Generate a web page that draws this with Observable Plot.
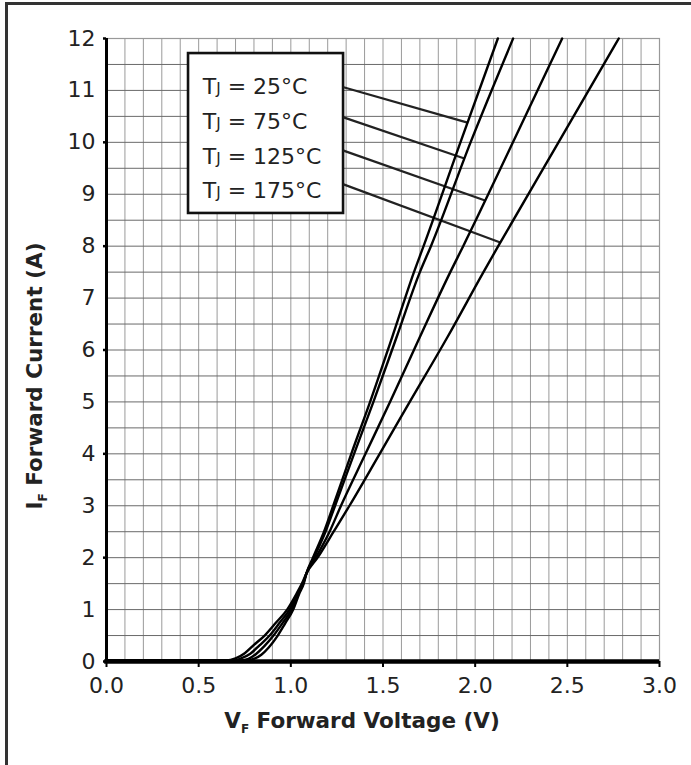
<!DOCTYPE html>
<html>
<head>
<meta charset="utf-8">
<script src="https://cdn.jsdelivr.net/npm/d3@7"></script>
<script src="https://cdn.jsdelivr.net/npm/@observablehq/plot@0.6"></script>
<style>
  html, body { margin: 0; padding: 0; background: #fff; }
  #wrap { position: relative; width: 691px; height: 765px; overflow: hidden; }
  #border { position: absolute; left: 5px; top: 2px; width: 800px; height: 800px;
            border-top: 3px solid #333; border-left: 3px solid #333; pointer-events: none; }
  svg { display: block; }
</style>
</head>
<body>
<div id="wrap"><div id="border"></div></div>
<script>
// ---- Data ----
const temps = ["25°C", "75°C", "125°C", "175°C"];

const v25 = [0, 0.3, 0.6, 0.76, 0.80, 0.84, 0.88, 0.929, 0.97, 1.013, 1.045, 1.07, 1.085, 1.12, 1.18, 1.23, 1.328, 1.43, 1.55, 1.668, 1.72, 1.92, 2.123];
const i25 = [0.02, 0.02, 0.02, 0.02, 0.05, 0.13, 0.27, 0.5, 0.74, 1.0, 1.3, 1.5, 1.7, 2.0, 2.5, 3.0, 4.0, 5.0, 6.25, 7.5, 8.0, 10.0, 12.0];

const v75 = [0, 0.3, 0.6, 0.73, 0.77, 0.81, 0.855, 0.906, 0.955, 1.004, 1.04, 1.067, 1.085, 1.125, 1.188, 1.24, 1.343, 1.448, 1.574, 1.70, 1.76, 1.975, 2.206];
const i75 = [0.02, 0.02, 0.02, 0.02, 0.05, 0.14, 0.29, 0.5, 0.74, 1.0, 1.3, 1.5, 1.7, 2.0, 2.5, 3.0, 4.0, 5.0, 6.25, 7.5, 8.0, 10.0, 12.0];

const v125 = [0, 0.3, 0.6, 0.69, 0.73, 0.78, 0.83, 0.885, 0.94, 0.993, 1.035, 1.065, 1.085, 1.135, 1.21, 1.272, 1.405, 1.538, 1.70, 1.865, 1.935, 2.205, 2.472];
const i125 = [0.02, 0.02, 0.02, 0.02, 0.06, 0.15, 0.31, 0.5, 0.75, 1.0, 1.3, 1.5, 1.7, 2.0, 2.5, 3.0, 4.0, 5.0, 6.25, 7.5, 8.0, 10.0, 12.0];

const v175 = [0, 0.3, 0.6, 0.65, 0.70, 0.75, 0.80, 0.858, 0.92, 0.98, 1.03, 1.06, 1.085, 1.145, 1.232, 1.318, 1.482, 1.645, 1.85, 2.045, 2.125, 2.452, 2.779];
const i175 = [0.02, 0.02, 0.02, 0.02, 0.06, 0.16, 0.32, 0.5, 0.75, 1.0, 1.3, 1.5, 1.7, 2.0, 2.5, 3.0, 4.0, 5.0, 6.25, 7.5, 8.0, 10.0, 12.0];

// Axis ticks
const xTicks = [0, 0.5, 1.0, 1.5, 2.0, 2.5, 3.0];
const yTicks = [0, 1, 2, 3, 4, 5, 6, 7, 8, 9, 10, 11, 12];
const yTickMarks = [0, 2, 4, 6, 8, 10, 12];

// Legend annotation (data units)
const legendBox = [{x1: 0.445, x2: 1.286, y1: 8.63, y2: 11.71}];
const legendTextX = 0.525;
const legendRowY = [11.07, 10.40, 9.73, 9.07];
const leaderStartY = [11.06, 10.48, 9.84, 9.19];
const leaderEndI = [10.38, 9.69, 8.88, 8.07];

// ---- Build tables ----
const series = [[v25, i25], [v75, i75], [v125, i125], [v175, i175]];
const curveRows = series.flatMap(([V, I], k) => V.map((v, j) => ({t: temps[k], v, i: I[j]})));

function vAt(V, I, target) {
  for (let j = 1; j < I.length; j++) {
    if (I[j - 1] <= target && I[j] >= target) {
      const f = (target - I[j - 1]) / (I[j] - I[j - 1]);
      return V[j - 1] + f * (V[j] - V[j - 1]);
    }
  }
  return V[V.length - 1];
}
const leaders = series.map(([V, I], k) => ({
  x1: legendBox[0].x2, y1: leaderStartY[k],
  x2: vAt(V, I, leaderEndI[k]), y2: leaderEndI[k]
}));

const xGrid = d3.range(1, 30).map(d => d / 10);
const yGrid = d3.range(1, 24).map(d => d / 2);

const plot = Plot.plot({
  width: 691,
  height: 765,
  marginLeft: 106,
  marginRight: 32,
  marginTop: 38,
  marginBottom: 104,
  x: {domain: [0, 3]},
  y: {domain: [0, 12]},
  style: {fontFamily: "DejaVu Sans", fontSize: "22px", color: "#222", background: "white"},
  marks: [
    Plot.gridX(xGrid, {stroke: "#9a9a9a", strokeOpacity: 1, strokeWidth: 1}),
    Plot.gridY(yGrid, {stroke: "#6a6a6a", strokeOpacity: 1, strokeWidth: 1}),
    Plot.frame({stroke: "#999", strokeWidth: 1.2}),
    Plot.rect(legendBox, {x1: "x1", x2: "x2", y1: "y1", y2: "y2", fill: "white", stroke: "#111", strokeWidth: 2.6}),
    Plot.link(leaders, {x1: "x1", y1: "y1", x2: "x2", y2: "y2", stroke: "#222", strokeWidth: 2.2}),
    Plot.line(curveRows, {x: "v", y: "i", z: "t", stroke: "#000", strokeWidth: 2.4, curve: "monotone-x"}),
    Plot.ruleX([0], {y1: 0, y2: 12, stroke: "#000", strokeWidth: 3}),
    Plot.ruleY([0], {x1: -0.01, x2: 3.0, stroke: "#000", strokeWidth: 4.5}),
    Plot.axisX({ticks: xTicks, tickFormat: d3.format(".1f"), tickSize: 6, tickPadding: 10, strokeWidth: 2, stroke: "#000", fill: "#222", label: null}),
    Plot.axisY({ticks: yTicks, tickSize: 0, tickPadding: 11, fill: "#222", label: null}),
    Plot.axisY({ticks: yTickMarks, tickSize: 3, tickFormat: () => "", strokeWidth: 2.5, stroke: "#000", label: null})
  ]
});

document.getElementById("wrap").insertBefore(plot, document.getElementById("border"));

const svg = d3.select(plot);
const xs = plot.scale("x"), ys = plot.scale("y");

// Legend text
const lg = svg.append("g")
  .attr("font-family", "DejaVu Sans").attr("font-size", 22)
  .attr("fill", "#222").attr("text-anchor", "start");
temps.forEach((t, k) => {
  const txt = lg.append("text")
    .attr("x", xs.apply(legendTextX))
    .attr("y", ys.apply(legendRowY[k]))
    .attr("dy", "0.36em");
  txt.append("tspan").text("T");
  txt.append("tspan").attr("font-size", 15).text("J");
  txt.append("tspan").text(" = " + t);
});

// Axis titles
const xt = svg.append("text")
  .attr("x", 362).attr("y", 728)
  .attr("text-anchor", "middle")
  .attr("font-family", "DejaVu Sans").attr("font-weight", "bold").attr("font-size", 21.5).attr("fill", "#222");
xt.append("tspan").text("V");
xt.append("tspan").attr("font-size", 12).attr("dy", 5).text("F");
xt.append("tspan").attr("dy", -5).text(" Forward Voltage (V)");

const yt = svg.append("text")
  .attr("transform", "translate(42,376) rotate(-90)")
  .attr("text-anchor", "middle")
  .attr("font-family", "DejaVu Sans").attr("font-weight", "bold").attr("font-size", 21.5).attr("fill", "#222");
yt.append("tspan").text("I");
yt.append("tspan").attr("font-size", 12).attr("dy", 5).text("F");
yt.append("tspan").attr("dy", -5).text(" Forward Current (A)");
</script>
</body>
</html>
